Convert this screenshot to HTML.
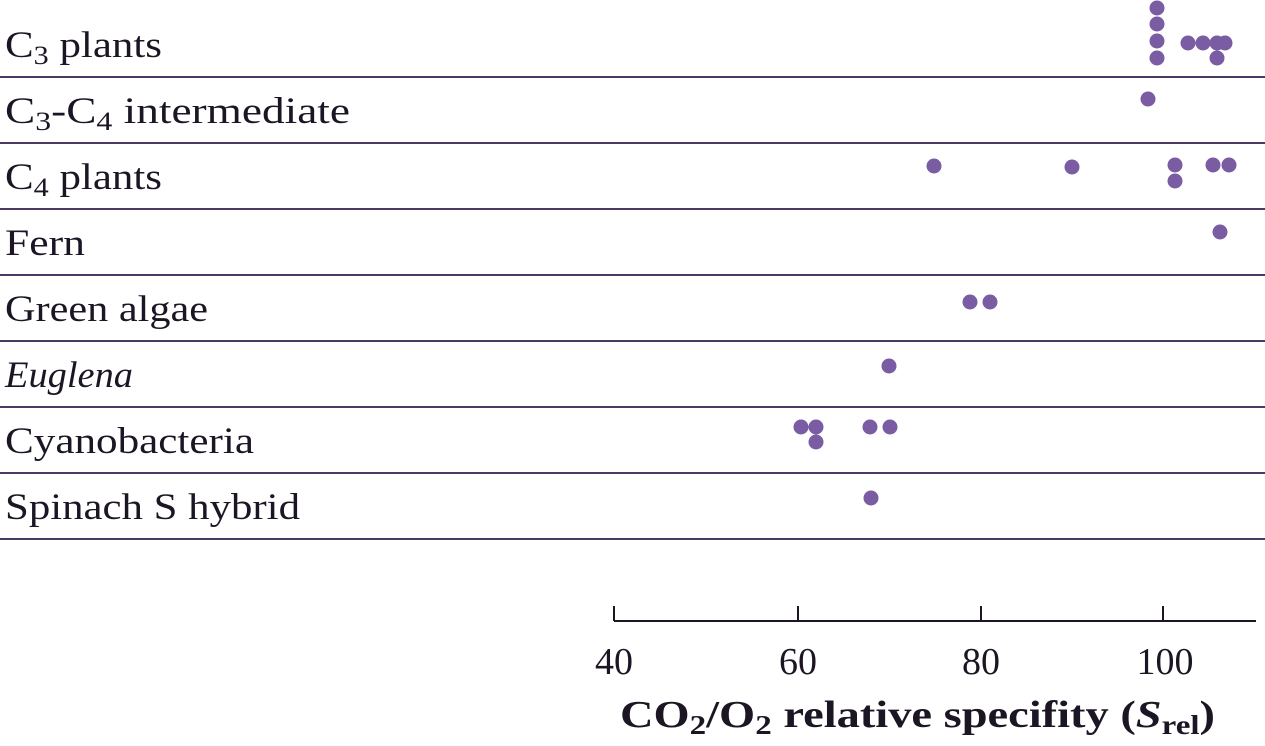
<!DOCTYPE html>
<html><head><meta charset="utf-8"><style>
html,body{margin:0;padding:0;background:#fff;}
svg{display:block;}
text{font-family:"Liberation Serif",serif;fill:#1c1624;}
</style></head><body>
<svg width="1265" height="746" viewBox="0 0 1265 746" xmlns="http://www.w3.org/2000/svg">
<g stroke="#4b3b63" stroke-width="2">
<line x1="0" y1="77" x2="1265" y2="77"/>
<line x1="0" y1="143" x2="1265" y2="143"/>
<line x1="0" y1="209" x2="1265" y2="209"/>
<line x1="0" y1="275" x2="1265" y2="275"/>
<line x1="0" y1="341" x2="1265" y2="341"/>
<line x1="0" y1="407" x2="1265" y2="407"/>
<line x1="0" y1="473" x2="1265" y2="473"/>
<line x1="0" y1="539" x2="1265" y2="539"/>
</g>
<g font-size="37">
<text x="5" y="57" textLength="157" lengthAdjust="spacingAndGlyphs">C<tspan font-size="26" dy="7">3</tspan><tspan dy="-7"> plants</tspan></text>
<text x="5" y="123" textLength="345" lengthAdjust="spacingAndGlyphs">C<tspan font-size="26" dy="7">3</tspan><tspan dy="-7">-C</tspan><tspan font-size="26" dy="7">4</tspan><tspan dy="-7"> intermediate</tspan></text>
<text x="5" y="189" textLength="157" lengthAdjust="spacingAndGlyphs">C<tspan font-size="26" dy="7">4</tspan><tspan dy="-7"> plants</tspan></text>
<text x="5" y="255" textLength="80" lengthAdjust="spacingAndGlyphs">Fern</text>
<text x="5" y="321" textLength="203" lengthAdjust="spacingAndGlyphs">Green algae</text>
<text x="5" y="387" textLength="128" lengthAdjust="spacingAndGlyphs" font-style="italic">Euglena</text>
<text x="5" y="453" textLength="249" lengthAdjust="spacingAndGlyphs">Cyanobacteria</text>
<text x="5" y="519" textLength="295" lengthAdjust="spacingAndGlyphs">Spinach S hybrid</text>
</g>
<g fill="#7a5ca3">
<circle cx="1157" cy="8" r="7.5"/><circle cx="1157" cy="24" r="7.5"/><circle cx="1157" cy="41" r="7.5"/><circle cx="1157" cy="58" r="7.5"/>
<circle cx="1188" cy="43" r="7.5"/><circle cx="1203" cy="43" r="7.5"/><circle cx="1217" cy="43" r="7.5"/><circle cx="1225" cy="43" r="7.5"/><circle cx="1217" cy="58" r="7.5"/>
<circle cx="1148" cy="99" r="7.5"/>
<circle cx="934" cy="166" r="7.5"/><circle cx="1072" cy="167" r="7.5"/><circle cx="1175" cy="165" r="7.5"/><circle cx="1175" cy="181" r="7.5"/><circle cx="1213" cy="165" r="7.5"/><circle cx="1229" cy="165" r="7.5"/>
<circle cx="1220" cy="232" r="7.5"/>
<circle cx="970" cy="302" r="7.5"/><circle cx="990" cy="302" r="7.5"/>
<circle cx="889" cy="366" r="7.5"/>
<circle cx="801" cy="427" r="7.5"/><circle cx="816" cy="427" r="7.5"/><circle cx="816" cy="442" r="7.5"/><circle cx="870" cy="427" r="7.5"/><circle cx="890" cy="427" r="7.5"/>
<circle cx="871" cy="498" r="7.5"/>
</g>
<g stroke="#1c1624" stroke-width="2">
<line x1="614" y1="621" x2="1256" y2="621"/>
<line x1="614" y1="606" x2="614" y2="621"/>
<line x1="798" y1="606" x2="798" y2="621"/>
<line x1="981" y1="606" x2="981" y2="621"/>
<line x1="1163" y1="606" x2="1163" y2="621"/>
</g>
<g font-size="38" text-anchor="middle">
<text x="614" y="674">40</text>
<text x="798" y="674">60</text>
<text x="981" y="674">80</text>
<text x="1165" y="674">100</text>
</g>
<text x="620" y="727" font-size="38" font-weight="bold" textLength="595" lengthAdjust="spacingAndGlyphs">CO<tspan font-size="27" dy="7">2</tspan><tspan dy="-7">/O</tspan><tspan font-size="27" dy="7">2</tspan><tspan dy="-7"> relative specifity (</tspan><tspan font-style="italic">S</tspan><tspan font-size="27" dy="7">rel</tspan><tspan dy="-7">)</tspan></text>
</svg>
</body></html>
